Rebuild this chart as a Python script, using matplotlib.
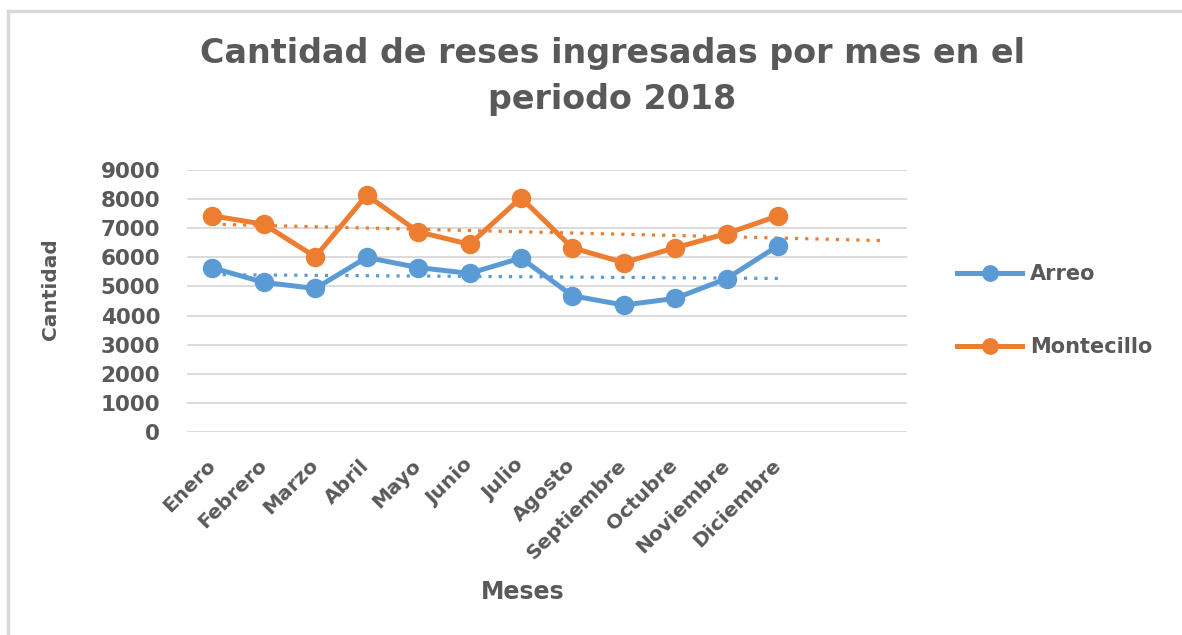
import numpy as np
import matplotlib.pyplot as plt
from matplotlib.lines import Line2D

meses = ['Enero', 'Febrero', 'Marzo', 'Abril', 'Mayo', 'Junio', 'Julio',
         'Agosto', 'Septiembre', 'Octubre', 'Noviembre', 'Diciembre']
arreo = [5640, 5140, 4930, 6000, 5650, 5450, 5980, 4680, 4360, 4590, 5270, 6400]
montecillo = [7430, 7140, 6020, 8140, 6880, 6450, 8050, 6330, 5820, 6330, 6820, 7430]
yticks = [0, 1000, 2000, 3000, 4000, 5000, 6000, 7000, 8000, 9000]

azul = '#5B9BD5'
naranja = '#ED7D31'
gris = '#595959'

plt.rcParams['font.family'] = ['DejaVu Sans']

fig = plt.figure(figsize=(11.82, 6.35), dpi=100)
ax = fig.add_axes([0.158, 0.320, 0.609, 0.412])

x = np.arange(len(meses))
ax.plot(x, arreo, color=azul, lw=3.6, marker='o', markersize=13, label='Arreo', zorder=3)
ax.plot(x, montecillo, color=naranja, lw=3.6, marker='o', markersize=13, label='Montecillo', zorder=3)

# lineas de tendencia (lineal), la de Montecillo con pronostico de 2 periodos
pa = np.polyfit(x, arreo, 1)
pm = np.polyfit(x, montecillo, 1)
xa = np.array([0, 11])
xm = np.array([0, 13])
ax.plot(xa, np.polyval(pa, xa), color=azul, lw=2.3, linestyle=(0, (1, 2.2)), zorder=2)
ax.plot(xm, np.polyval(pm, xm), color=naranja, lw=2.3, linestyle=(0, (1, 2.2)), zorder=2)

ax.set_xlim(-0.5, 13.5)
ax.set_ylim(0, 9000)
ax.set_yticks(yticks)
ax.set_yticklabels([str(v) for v in yticks], fontsize=15.5, fontweight='bold', color=gris)
ax.set_xticks(x)
ax.set_xticklabels(meses, rotation=45, ha='right', va='center', rotation_mode='anchor',
                   fontsize=14.5, fontweight='bold', color=gris)
ax.tick_params(axis='y', length=0, pad=19)
ax.tick_params(axis='x', length=0, pad=22)
ax.grid(axis='y', color='#D9D9D9', lw=1.3)
ax.set_axisbelow(True)
for s in ax.spines.values():
    s.set_visible(False)

fig.text(0.518, 0.879, 'Cantidad de reses ingresadas por mes en el\nperiodo 2018',
         ha='center', va='center', fontsize=24, fontweight='bold', color=gris,
         linespacing=1.5)
fig.text(0.442, 0.068, 'Meses', ha='center', va='center', fontsize=17,
         fontweight='bold', color=gris)
fig.text(0.043, 0.545, 'Cantidad', ha='center', va='center', rotation=90,
         fontsize=14.5, fontweight='bold', color=gris)

leg = fig.legend(loc='center left', bbox_to_anchor=(0.794, 0.511), frameon=False,
                 fontsize=15, handlelength=3.1, handletextpad=0.4, labelspacing=2.55,
                 markerscale=0.85)
for t in leg.get_texts():
    t.set_color(gris)
    t.set_fontweight('bold')

# marco del grafico (solo bordes superior e izquierdo visibles)
fig.add_artist(Line2D([0.007, 0.007], [0, 0.983], color='#D9D9D9', lw=2.5))
fig.add_artist(Line2D([0.007, 1.0], [0.983, 0.983], color='#D9D9D9', lw=2.5))

fig.savefig('out.png', dpi=100)
